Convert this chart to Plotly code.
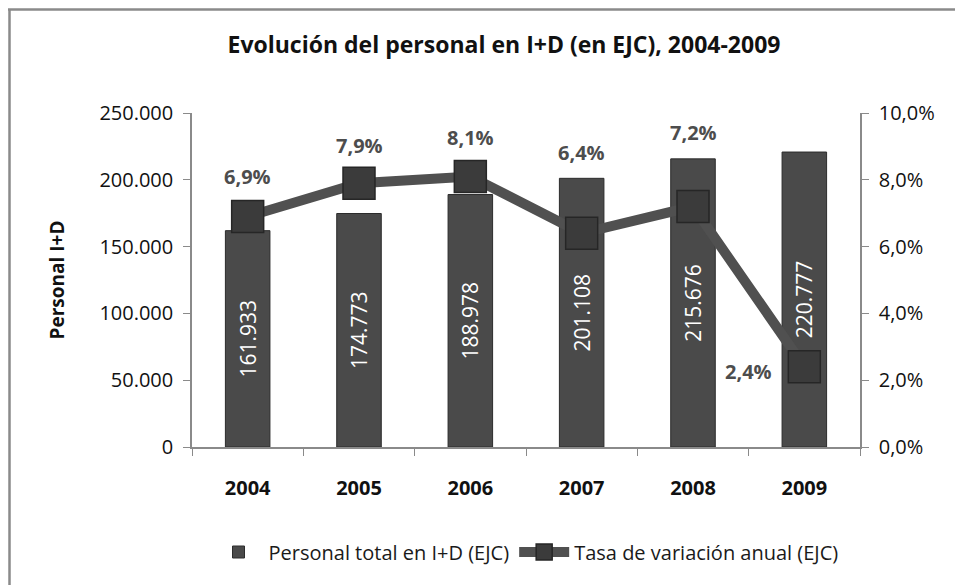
import plotly.graph_objects as go

years = ["2004", "2005", "2006", "2007", "2008", "2009"]
personal = [161933, 174773, 188978, 201108, 215676, 220777]
tasa = [6.9, 7.9, 8.1, 6.4, 7.2, 2.4]
tasa_labels = ["6,9%", "7,9%", "8,1%", "6,4%", "7,2%", "2,4%"]
left_ticks = [0, 50000, 100000, 150000, 200000, 250000]
right_ticks = [0, 2, 4, 6, 8, 10]
right_tick_labels = ["0,0%", "2,0%", "4,0%", "6,0%", "8,0%", "10,0%"]

FONT = "'Open Sans', sans-serif"

# page body adds 8px offset; figure sized to fill the rest of the window
W, H = 955, 577
L, R, T, B = 184, 103, 105, 138
PW, PH = W - L - R, H - T - B

fig = go.Figure()
fig.add_trace(go.Bar(
    x=years, y=personal, name="Personal total en I+D (EJC)",
    marker=dict(color="#4a4a4a", line=dict(color="#2c2c2c", width=1)),
    texttemplate="%{y:,.0f}", textposition="inside", insidetextanchor="middle",
    textangle=-90, textfont=dict(color="white", size=21, family=FONT),
))
fig.add_trace(go.Scatter(
    x=years, y=tasa, name="Tasa de variación anual (EJC)", yaxis="y2",
    mode="lines+markers",
    line=dict(color="#505050", width=10),
    marker=dict(symbol="square", size=32, color="#3b3b3b", line=dict(color="#262626", width=1.5)),
    cliponaxis=False,
))

# label placement (style): pixel shifts relative to each marker
label_xshift = [0, 0, 0, 0, 0, -56]
label_yshift = [40, 38, 39, 81, 74, -5]
annotations = []
for i, (v, lab) in enumerate(zip(tasa, tasa_labels)):
    annotations.append(dict(
        x=i, y=v, xref="x", yref="y2", text=f"<b>{lab}</b>", showarrow=False,
        xshift=label_xshift[i], yshift=label_yshift[i],
        font=dict(size=20, family=FONT, color="#4d4d4d"),
    ))

fig.update_layout(
    width=W, height=H,
    margin=dict(l=L, r=R, t=T, b=B, autoexpand=False),
    paper_bgcolor="white", plot_bgcolor="white",
    separators=",.",
    font=dict(family=FONT, color="#1a1a1a", size=18),
    title=dict(text="<b>Evolución del personal en I+D (en EJC), 2004-2009</b>",
               x=496 / W, xref="container", xanchor="center", y=1 - 37 / H, yanchor="middle",
               font=dict(size=23, family=FONT, color="#111")),
    bargap=0.6,
    showlegend=True,
    legend=dict(orientation="h", x=(518 - 184) / PW, xanchor="center", y=-(544 - 439) / PH, yanchor="middle",
                font=dict(size=20, family=FONT, color="#1a1a1a"),
                itemwidth=50, traceorder="normal"),
    xaxis=dict(
        type="category", range=[-0.5, 5.5], showline=True, linecolor="#8a8a8a", linewidth=1.5,
        ticks="outside", ticklen=7, tickcolor="#8a8a8a", tickson="boundaries",
        tickfont=dict(size=20, family=FONT, weight="bold", color="#111"),
        ticklabelstandoff=22, showgrid=False, tickangle=0,
    ),
    yaxis=dict(
        range=[0, 250000], tickvals=left_ticks, tickformat=",.0f",
        showline=True, linecolor="#8a8a8a", linewidth=1.5, ticks="outside",
        ticklen=7, tickcolor="#8a8a8a", showgrid=False, zeroline=False,
        tickfont=dict(size=20, family=FONT, color="#111"),
        ticklabelstandoff=6,
        title=dict(text="<b>Personal I+D</b>", standoff=30,
                   font=dict(size=19, family=FONT, color="#111")),
    ),
    yaxis2=dict(
        range=[0, 10], tickvals=right_ticks, ticktext=right_tick_labels,
        overlaying="y", side="right",
        showline=True, linecolor="#8a8a8a", linewidth=1.5, ticks="outside",
        ticklen=7, tickcolor="#8a8a8a", showgrid=False, zeroline=False,
        tickfont=dict(size=20, family=FONT, color="#111"),
        ticklabelstandoff=6,
    ),
    annotations=annotations,
    shapes=[
        dict(type="line", xref="paper", yref="paper", x0=-L / PW, x1=1 + R / PW,
             y0=1 + (T - 1.5) / PH, y1=1 + (T - 1.5) / PH,
             line=dict(color="#8a8a8a", width=2.5)),
        dict(type="line", xref="paper", yref="paper", x0=-(L - 1.5) / PW, x1=-(L - 1.5) / PW,
             y0=1 + (T - 1.5) / PH, y1=-B / PH,
             line=dict(color="#8a8a8a", width=2.5)),
    ],
)

fig.write_html("out.html")
